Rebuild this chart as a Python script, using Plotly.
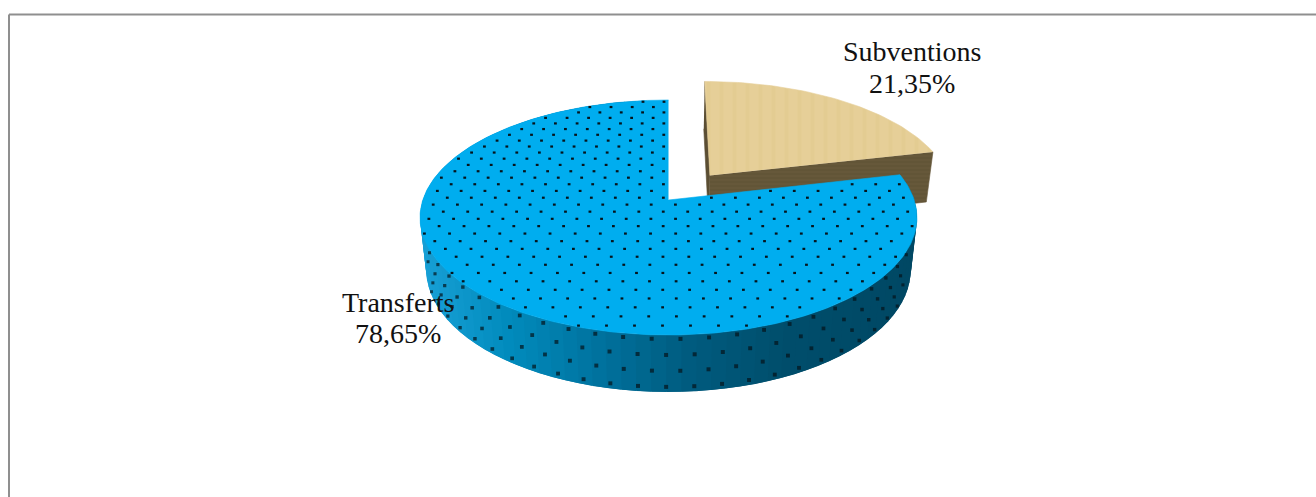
import numpy as np
import plotly.graph_objects as go

# Data
categories = ["Subventions", "Transferts"]
values = [21.35, 78.65]

# Projection of the tilted 3D pie (page pixels)
X0, SX, BX = 668.5, 245.7, 0.975
C = 0.149
TOP_A, TOP_B = -85.1, 200.0
BOT_A, BOT_B = -81.7, 251.9
PULL = 0.28


def proj(u, v, bottom=False):
    u, v = np.asarray(u, float), np.asarray(v, float)
    w = 1 + C * v
    a, b, k = (BOT_A, BOT_B, BX) if bottom else (TOP_A, TOP_B, 1.0)
    return X0 + k * SX * u / w, (a * v + b) / w


def proj_t(u, v, t):
    """t = 0 on the top face, t = 1 on the bottom face."""
    x0, y0 = proj(u, v)
    x1, y1 = proj(u, v, True)
    return x0 + (x1 - x0) * t, y0 + (y1 - y0) * t


share = np.array(values) / sum(values)
split = 2 * np.pi * share[0]                # clockwise from 12 o'clock
mid = split / 2
du, dv = PULL * np.sin(mid), PULL * np.cos(mid)

fig = go.Figure()


def poly(xs, ys, color, pattern=None, lw=0.6):
    fig.add_trace(go.Scatter(
        x=np.asarray(xs), y=np.asarray(ys), mode="lines", fill="toself",
        fillcolor=color, line=dict(color=color, width=lw),
        fillpattern=pattern, hoverinfo="skip", showlegend=False))


# --- Subventions: pulled wedge -------------------------------------------
BROWN = "#66583a"
side_pat = dict(shape="-", size=4, solidity=0.25, fgcolor="#574a2e", bgcolor=BROWN)
ux, vy = du, 1 + dv
a_t = proj(du, dv); a_b = proj(du, dv, True)
s_t = proj(ux, vy); s_b = proj(ux, vy, True)
poly([s_t[0], a_t[0], a_b[0], s_b[0]], [s_t[1], a_t[1], a_b[1], s_b[1]], "#5b4e33")
ux, vy = np.sin(split) + du, np.cos(split) + dv
e_t = proj(ux, vy); e_b = proj(ux, vy, True)
poly([a_t[0], e_t[0], e_b[0], a_b[0]], [a_t[1], e_t[1], e_b[1], a_b[1]], BROWN, side_pat)
th = np.linspace(0, split, 60)
tx, ty = proj(np.sin(th) + du, np.cos(th) + dv)
poly(np.r_[a_t[0], tx], np.r_[a_t[1], ty], "#e6cf98",
     dict(shape="|", size=13, solidity=0.3, fgcolor="#ddc486", bgcolor="#e6cf98", fgopacity=0.35))

# --- Transferts: side wall with a left-to-right shading -----------------
stops_x = [420, 500, 600, 680, 780, 917]
stops_c = [(24, 160, 214), (2, 140, 190), (0, 112, 155), (0, 92, 128), (0, 78, 108), (0, 72, 100)]
edges = np.linspace(split + 0.05, 2 * np.pi - 0.15, 90)
# painted from the right-hand end, each piece overlapping the next so no seams show
for a, b in zip(edges[:-1], edges[2:]):
    tha = np.array([a, b])
    x0, y0 = proj(np.sin(tha), np.cos(tha))
    x1, y1 = proj(np.sin(tha), np.cos(tha), True)
    xm = x0.mean()
    rgb = [int(np.interp(xm, stops_x, [c[i] for c in stops_c])) for i in range(3)]
    poly([x0[0], x0[1], x1[1], x1[0]], [y0[0], y0[1], y1[1], y1[0]], f"rgb({rgb[0]},{rgb[1]},{rgb[2]})", lw=0)

# Transferts: top face
th = np.linspace(split, 2 * np.pi, 300)
tx, ty = proj(np.sin(th), np.cos(th))
a0 = proj(0, 0)
poly(np.r_[a0[0], tx], np.r_[a0[1], ty], "#00adef")

# Dots of the top-face texture, laid out on the pie's own plane
su, sv = 0.098, 0.06
uu, vv = [], []
for r, v in enumerate(np.arange(-1.0, 1.0, sv)):
    for u in np.arange(-1.05, 1.05, su) + (su / 2 if r % 2 else 0):
        ang = np.arctan2(u, v) % (2 * np.pi)
        if u * u + v * v < 0.985 and split + 0.03 < ang < 2 * np.pi - 0.02:
            uu.append(u); vv.append(v)
dx, dy = proj(uu, vv)
fig.add_trace(go.Scatter(x=dx, y=dy, mode="markers", hoverinfo="skip", showlegend=False,
                         marker=dict(symbol="line-ew", size=2, color="#06141c",
                                     line=dict(width=2.2, color="#06141c"))))

# Dots of the side wall, narrower where the wall turns away
ss, tt = [], []
for r, t in enumerate([0.07, 0.35, 0.63, 0.91]):
    for a in np.arange(2.0, 4.32, 0.1) + (0.05 if r % 2 else 0):
        ss.append(a); tt.append(t)
ss, tt = np.array(ss), np.array(tt)
dx, dy = proj_t(np.sin(ss), np.cos(ss), tt)
fig.add_trace(go.Scatter(x=dx, y=dy, mode="markers", hoverinfo="skip", showlegend=False,
                         marker=dict(symbol="square", size=2.4 + 1.6 * np.abs(np.cos(ss)),
                                     color="#04121a", line=dict(width=0))))

# Labels
for name, val, lx, ly1, ly2 in zip(categories, values, [912, 398], [51.5, 302], [83, 333.5]):
    pct = f"{val:.2f}%".replace(".", ",")
    for txt, ly in ((name, ly1), (pct, ly2)):
        fig.add_annotation(x=lx, y=ly, xref="x", yref="y", text=txt, showarrow=False,
                           font=dict(family="Liberation Serif", size=28, color="#111111"))

# Frame (top and left only are visible)
for x0_, y0_, x1_, y1_ in [(9, 14.5, 1316, 14.5), (9, 14.5, 9, 497)]:
    fig.add_shape(type="line", x0=x0_, y0=y0_, x1=x1_, y1=y1_, xref="x", yref="y",
                  line=dict(color="#8f8f8f", width=2), layer="above")

fig.update_layout(
    width=1316, height=497, margin=dict(l=0, r=0, t=0, b=0),
    paper_bgcolor="white", plot_bgcolor="white", showlegend=False,
    xaxis=dict(range=[0, 1316], visible=False, fixedrange=True),
    yaxis=dict(range=[497, 0], visible=False, fixedrange=True),
)
fig.write_html("out.html", config=dict(displayModeBar=False),
               post_script="document.body.style.margin='0';document.body.style.overflow='hidden';")
